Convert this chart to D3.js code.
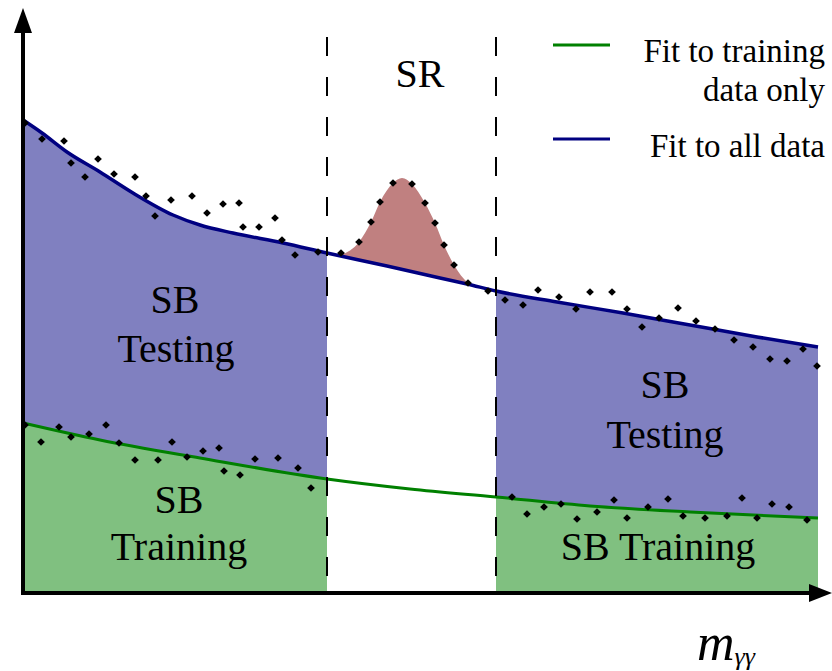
<!DOCTYPE html>
<html>
<head>
<meta charset="utf-8">
<script src="https://cdn.jsdelivr.net/npm/d3@7"></script>
<style>
    body { margin: 0; background: #fff; }
</style>
</head>
<body>
<div id="plot"></div>
<script>
// Schematic of sideband fit, arbitrary units (x = mass, y = events)

// Fit to all data (blue)
var fitAllX = [0, 19, 44, 77, 110, 150, 177, 210, 260, 304, 364, 417, 444, 473, 534, 600, 667, 734, 795];
var fitAllY = [473, 460, 441, 421, 400, 378, 368, 360, 350, 340, 327, 315, 309, 302, 291, 280, 268, 256, 246];

// Fit to training data only (green)
var fitTrainX = [0, 77, 177, 304, 387, 473, 567, 667, 795];
var fitTrainY = [170, 153, 135, 114, 104, 96, 87, 81, 75];

// Signal peak in the SR (top edge of the red area)
var signalX = [318, 336, 348, 357, 370, 379, 389, 402, 412, 421, 431, 445, 459];
var signalY = [338, 351, 371, 391, 410, 415, 409, 390, 370, 348, 328, 310, 303];

// Data points around the upper curve
var dataAllX = [2, 19, 41, 48, 62, 75, 91, 112, 123, 132, 148, 169, 184, 200, 216, 220, 236, 252, 259, 272, 295,
                318, 336, 348, 357, 370, 389, 402, 412, 421, 431, 445, 465,
                482, 500, 515, 536, 553, 567, 589, 604, 619, 636, 655, 673, 692, 711, 730, 747, 764, 780, 794];
var dataAllY = [470, 454, 452, 430, 416, 434, 419, 416, 397, 377, 393, 397, 380, 389, 390, 366, 366, 375, 353, 338, 341,
                340, 351, 371, 391, 410, 409, 390, 370, 348, 328, 310, 302,
                293, 288, 303, 296, 284, 301, 301, 284, 266, 275, 285, 272, 264, 253, 246, 234, 232, 244, 227];

// Data points around the lower (training) curve
var dataTrainX = [2, 18, 36, 48, 66, 83, 96, 112, 135, 149, 164, 180, 196, 201, 217, 232, 255, 275, 288,
                  489, 504, 521, 538, 554, 574, 591, 604, 625, 645, 660, 682, 704, 719, 734, 749, 766, 784];
var dataTrainY = [168, 151, 166, 156, 159, 168, 150, 133, 133, 151, 136, 142, 145, 122, 118, 134, 135, 125, 105,
                  96, 79, 86, 89, 74, 81, 93, 75, 86, 94, 77, 75, 77, 95, 75, 89, 86, 73];

// Region edges: [SB left start, SR start, SR end, SB right end]
var regionEdges = [2, 304, 473, 795];

var serif = "Liberation Serif, DejaVu Serif, Noto Serif, Times New Roman, serif";
var width = 832, height = 671;
var x = d3.scaleLinear().domain([0, 800]).range([23, 823]);
var y = d3.scaleLinear().domain([0, 600]).range([593, -7]);

var svg = d3.select("#plot").append("svg")
    .attr("width", width)
    .attr("height", height)
    .attr("font-family", serif);

function pts(xs, ys) {
    return xs.map(function(v, i) { return {x: v, y: ys[i]}; });
}
var fitAll = pts(fitAllX, fitAllY);
var fitTrain = pts(fitTrainX, fitTrainY);
var signal = pts(signalX, signalY);

// clip paths for sidebands and signal region
var defs = svg.append("defs");
defs.append("clipPath").attr("id", "sbClip")
    .selectAll("rect")
    .data([[regionEdges[0], regionEdges[1]], [regionEdges[2], regionEdges[3]]])
    .enter().append("rect")
    .attr("x", function(d) { return x(d[0]); })
    .attr("width", function(d) { return x(d[1]) - x(d[0]); })
    .attr("y", 0)
    .attr("height", y(0));
defs.append("clipPath").attr("id", "srClip")
    .append("rect")
    .attr("x", x(regionEdges[1]))
    .attr("width", x(regionEdges[2]) - x(regionEdges[1]))
    .attr("y", 0)
    .attr("height", y(0));

var areaFrom0 = d3.area()
    .curve(d3.curveMonotoneX)
    .x(function(d) { return x(d.x); })
    .y0(y(0))
    .y1(function(d) { return y(d.y); });

var lineGen = d3.line()
    .curve(d3.curveMonotoneX)
    .x(function(d) { return x(d.x); })
    .y(function(d) { return y(d.y); });

// SB testing (blue) and SB training (green) fills
svg.append("path").datum(fitAll)
    .attr("d", areaFrom0)
    .attr("fill", "#8080c0")
    .attr("clip-path", "url(#sbClip)");
svg.append("path").datum(fitTrain)
    .attr("d", areaFrom0)
    .attr("fill", "#80c080")
    .attr("clip-path", "url(#sbClip)");

// Signal: red area, then white under the background curve
svg.append("path").datum(signal)
    .attr("d", areaFrom0)
    .attr("fill", "#c08080")
    .attr("clip-path", "url(#srClip)");
svg.append("path").datum(fitAll)
    .attr("d", areaFrom0)
    .attr("fill", "#fff")
    .attr("clip-path", "url(#srClip)");

// Fit curves
svg.append("path").datum(fitTrain)
    .attr("d", lineGen)
    .attr("fill", "none")
    .attr("stroke", "#008000")
    .attr("stroke-width", 3);
svg.append("path").datum(fitAll)
    .attr("d", lineGen)
    .attr("fill", "none")
    .attr("stroke", "#000080")
    .attr("stroke-width", 3.5);

// Dashed SR boundaries
svg.selectAll("line.sr")
    .data([regionEdges[1], regionEdges[2]])
    .enter().append("line")
    .attr("class", "sr")
    .attr("x1", function(d) { return x(d); })
    .attr("x2", function(d) { return x(d); })
    .attr("y1", 37)
    .attr("y2", y(0))
    .attr("stroke", "#000")
    .attr("stroke-width", 2)
    .attr("stroke-dasharray", "19,21");

// Data points (small squares turned 45 degrees)
var marker = d3.symbol().type(d3.symbolSquare).size(30);
svg.selectAll("path.dot")
    .data(pts(dataAllX, dataAllY).concat(pts(dataTrainX, dataTrainY)))
    .enter().append("path")
    .attr("class", "dot")
    .attr("d", marker)
    .attr("transform", function(d) { return "translate(" + x(d.x) + "," + y(d.y) + ") rotate(45)"; })
    .attr("fill", "#000");

// Axes with arrow heads
svg.append("line")
    .attr("x1", x(0)).attr("y1", y(0) + 2)
    .attr("x2", x(0)).attr("y2", 30)
    .attr("stroke", "#000").attr("stroke-width", 4);
svg.append("path")
    .attr("d", "M" + x(0) + ",8 L" + (x(0) - 9) + ",33 L" + (x(0) + 9) + ",33 Z")
    .attr("fill", "#000");
svg.append("line")
    .attr("x1", x(0) - 2).attr("y1", y(0))
    .attr("x2", 812).attr("y2", y(0))
    .attr("stroke", "#000").attr("stroke-width", 4);
svg.append("path")
    .attr("d", "M832," + y(0) + " L809," + (y(0) - 9) + " L809," + (y(0) + 9) + " Z")
    .attr("fill", "#000");

// Region labels
var labels = [
    {t: "SR", x: 420, y: 87},
    {t: "SB", x: 175, y: 313}, {t: "Testing", x: 176, y: 362},
    {t: "SB", x: 179, y: 513}, {t: "Training", x: 179, y: 560},
    {t: "SB", x: 665, y: 398}, {t: "Testing", x: 665, y: 448},
    {t: "SB Training", x: 658, y: 560}
];
svg.selectAll("text.lbl")
    .data(labels)
    .enter().append("text")
    .attr("class", "lbl")
    .attr("x", function(d) { return d.x; })
    .attr("y", function(d) { return d.y; })
    .attr("text-anchor", "middle")
    .attr("font-size", 40)
    .text(function(d) { return d.t; });

// Legend
var legend = svg.append("g");
legend.append("line")
    .attr("x1", 553).attr("x2", 610).attr("y1", 45).attr("y2", 45)
    .attr("stroke", "#008000").attr("stroke-width", 3);
legend.append("line")
    .attr("x1", 553).attr("x2", 610).attr("y1", 139).attr("y2", 139)
    .attr("stroke", "#000080").attr("stroke-width", 3);
[["Fit to training", 62], ["data only", 101], ["Fit to all data", 157]].forEach(function(d) {
    legend.append("text")
        .attr("x", 825).attr("y", d[1])
        .attr("text-anchor", "end")
        .attr("font-size", 33)
        .text(d[0]);
});

// x axis label
var xl = svg.append("text")
    .attr("x", 697).attr("y", 660)
    .attr("font-style", "italic")
    .attr("font-size", 52)
    .text("m");
xl.append("tspan")
    .attr("dy", 5)
    .attr("font-size", 26)
    .text("γγ");
</script>
</body>
</html>
